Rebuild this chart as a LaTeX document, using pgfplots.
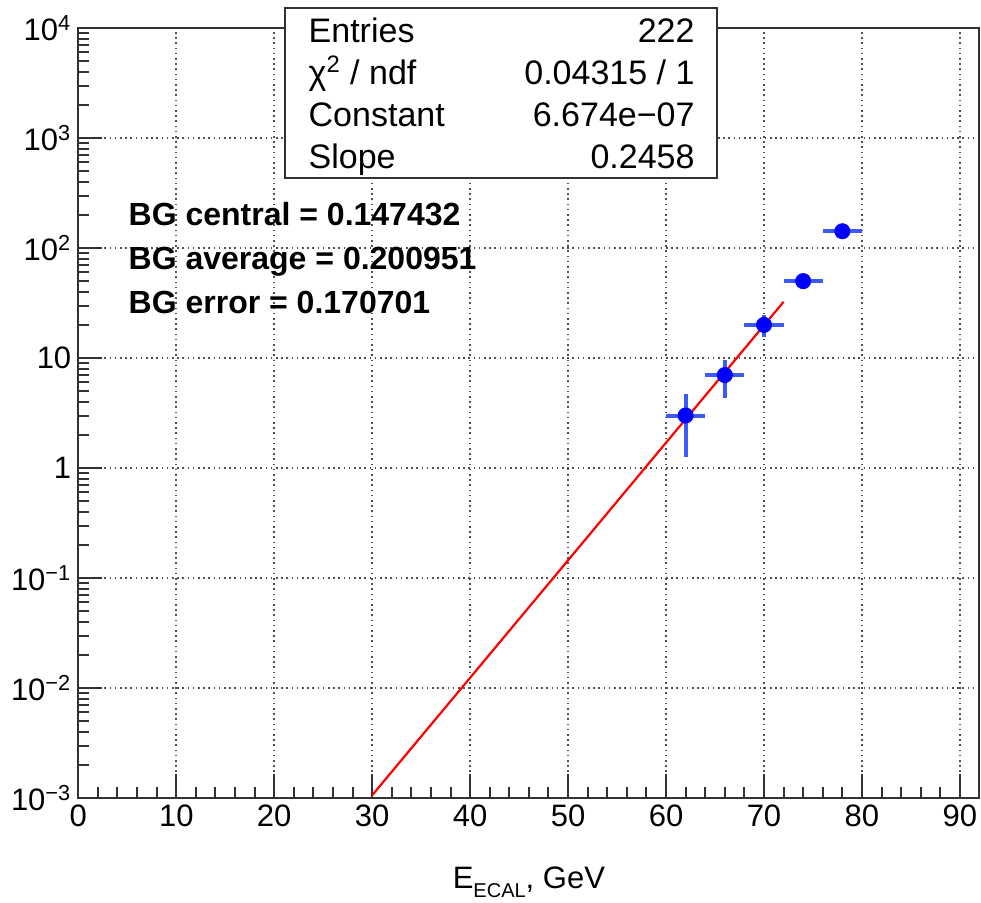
\documentclass[border=0pt]{standalone}
\usepackage{fontspec}
\setmainfont{Liberation Sans}
\usepackage{pgfplots}
\pgfplotsset{compat=1.18}
\definecolor{errblue}{RGB}{60,90,250}
\definecolor{gridgray}{RGB}{80,80,80}
\definecolor{framegray}{RGB}{50,50,50}

\begin{document}
\begin{tikzpicture}
% fixed page: 1px of the reference = 0.5pt
\useasboundingbox (-39.15pt,-52pt) rectangle (451.35pt,399pt);
\begin{axis}[
    at={(0,0)}, anchor=south west,
    scale only axis, width=450.6pt, height=385pt,
    xmin=0, xmax=92,
    ymode=log, ymin=1e-3, ymax=1e4,
    xtick={0,10,...,90},
    minor x tick num=4,
    ytick={1e-3,1e-2,1e-1,1,10,100,1000,10000},
    yticklabels={10\textsuperscript{−3},10\textsuperscript{−2},10\textsuperscript{−1},1,10,10\textsuperscript{2},10\textsuperscript{3},10\textsuperscript{4}},
    tick pos=left,
    tick align=inside,
    major tick length=12pt,
    minor tick length=5.5pt,
    every tick/.style={framegray, line width=1pt},
    axis line style={framegray, line width=1pt},
    grid=major,
    major grid style={gridgray, line width=0.8pt, dash pattern=on 0.8pt off 1.8pt},
    /pgf/number format/assume math mode=true,
    ticklabel style={font=\fontsize{15.5}{18}\selectfont},
    xlabel={E\raisebox{-0.55ex}{\fontsize{10}{12}\selectfont ECAL}, GeV},
    xlabel style={font=\fontsize{15.5}{18}\selectfont, at={(axis description cs:0.5,-0.117)}, anchor=base},
]
% data points with Poisson errors, bins of 4 GeV
\addplot[only marks, mark=*, mark size=3.8pt, draw=blue, fill=blue,
    error bars/.cd, x dir=both, x explicit, y dir=both, y explicit,
    error mark=none, error bar style={line width=2pt, errblue}]
    table[x=x, y=y, x error=ex, y error=ey] {
x   y    ex  ey
62  3    2   1.73
66  7    2   2.65
70  20   2   4.47
74  50   2   7.07
78  142  2   11.92
};
% exponential fit
\addplot[red, line width=1.1pt] coordinates {
    (30,0.00106) (40,0.0124) (50,0.145) (60,1.70) (72,32.4)
};
\end{axis}

% stat box
\draw[framegray, line width=1pt, fill=white] (103.35pt,309.85pt) rectangle (319.2pt,394.85pt);
\begin{scope}[every node/.style={font=\fontsize{17}{20}\selectfont, inner sep=0pt}]
\node[anchor=base west] at (115pt,377.5pt) {Entries};
\node[anchor=base east] at (308.3pt,377.5pt) {222};
\node[anchor=base west] at (115pt,356.5pt) {χ\textsuperscript{2} / ndf};
\node[anchor=base east] at (308.3pt,356.5pt) {0.04315 / 1};
\node[anchor=base west] at (115pt,335.5pt) {Constant};
\node[anchor=base east] at (308.3pt,335.5pt) {6.674e−07};
\node[anchor=base west] at (115pt,315pt) {Slope};
\node[anchor=base east] at (308.3pt,315pt) {0.2458};
\end{scope}

% background estimates
\begin{scope}[every node/.style={font=\fontsize{16}{19}\selectfont\bfseries, inner sep=0pt, anchor=base west}]
\node at (25pt,286.5pt) {BG central = 0.147432};
\node at (25pt,264.35pt) {BG average = 0.200951};
\node at (25pt,242.35pt) {BG error = 0.170701};
\end{scope}
\end{tikzpicture}
\end{document}
